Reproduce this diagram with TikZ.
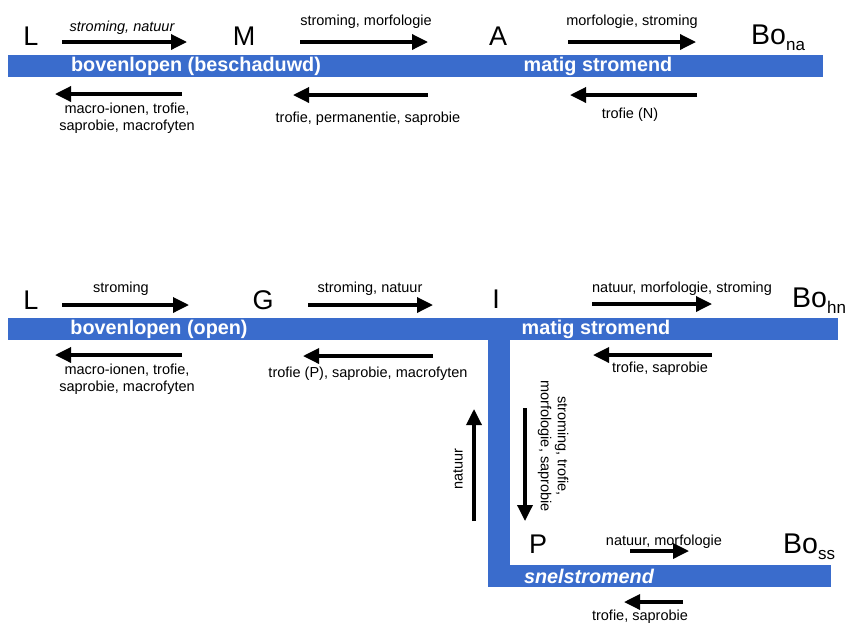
\documentclass[tikz,border=0pt]{standalone}
\usepackage{fontspec}
\setmainfont{Liberation Sans}
\usetikzlibrary{arrows.meta}
\definecolor{bandblue}{RGB}{58,108,204}
\begin{document}
\begin{tikzpicture}[x=1pt,y=-1pt,
  flow/.style={line width=3.4pt,-{Triangle[length=16pt,width=15pt]}},
  lbl/.style={font=\fontsize{14.5}{17}\selectfont,align=center,inner sep=0pt},
  ilbl/.style={lbl,font=\fontsize{14.5}{17}\selectfont\itshape},
  station/.style={font=\fontsize{27}{30}\selectfont,inner sep=0pt,anchor=base},
  bandtxt/.style={text=white,font=\bfseries\fontsize{19.8}{21}\selectfont,inner sep=0pt}]
\useasboundingbox (0,0) rectangle (848,625);

% ---------------- top diagram ----------------
\fill[bandblue] (8,55) rectangle (823,77);
\node[bandtxt] (b1) at (196,66) {bovenlopen (beschaduwd)};
\node[bandtxt] (b2) at (598,66) {matig stromend};

\node[station] (L1) at (31,45) {L};
\node[station] (M1) at (244,45) {M};
\node[station] (A1) at (498,45) {A};
\node[station,anchor=base west] (Bo1) at (751,44) {\fontsize{28.5}{30}\selectfont Bo\raisebox{-6pt}{\fontsize{17}{18}\selectfont na}};

\coordinate (t1a) at (62,42);  \coordinate (t1b) at (187,42);
\coordinate (t2a) at (300,42); \coordinate (t2b) at (428,42);
\coordinate (t3a) at (568,42); \coordinate (t3b) at (696,42);
\draw[flow] (t1a) -- (t1b);
\draw[flow] (t2a) -- (t2b);
\draw[flow] (t3a) -- (t3b);
\node[ilbl,anchor=base] (lt1) at (122,31) {stroming, natuur};
\node[lbl,anchor=base] (lt2) at (366,25) {stroming, morfologie};
\node[lbl,anchor=base] (lt3) at (632,25) {morfologie, stroming};

\coordinate (u1a) at (182,94); \coordinate (u1b) at (55,94);
\coordinate (u2a) at (428,95); \coordinate (u2b) at (293,95);
\coordinate (u3a) at (697,95); \coordinate (u3b) at (570,95);
\draw[flow] (u1a) -- (u1b);
\draw[flow] (u2a) -- (u2b);
\draw[flow] (u3a) -- (u3b);
\node[lbl,anchor=north] (lu1) at (127,103) {macro-ionen, trofie,\\saprobie, macrofyten};
\node[lbl,anchor=base] (lu2) at (368,122) {trofie, permanentie, saprobie};
\node[lbl,anchor=base] (lu3) at (630,118) {trofie (N)};

% ---------------- bottom diagram ----------------
\fill[bandblue] (8,318) rectangle (838,340);
\fill[bandblue] (488,318) rectangle (510,587);
\fill[bandblue] (488,565) rectangle (831,587);
\node[bandtxt] (b3) at (159,329) {bovenlopen (open)};
\node[bandtxt] (b4) at (596,329) {matig stromend};
\node[bandtxt,font=\bfseries\itshape\fontsize{19.8}{21}\selectfont] (b5) at (589,576) {snelstromend};

\node[station] (L2) at (31,309) {L};
\node[station] (G2) at (263,309) {G};
\node[station] (I2) at (496,308) {I};
\node[station,anchor=base west] (Bo2) at (792,307) {\fontsize{28.5}{30}\selectfont Bo\raisebox{-6pt}{\fontsize{17}{18}\selectfont hn}};
\node[station] (P2) at (538,553) {P};
\node[station,anchor=base west] (Bo3) at (783,553) {\fontsize{28.5}{30}\selectfont Bo\raisebox{-6pt}{\fontsize{17}{18}\selectfont ss}};

\coordinate (r1a) at (62,305);  \coordinate (r1b) at (189,305);
\coordinate (r2a) at (308,305); \coordinate (r2b) at (433,305);
\coordinate (r3a) at (592,304); \coordinate (r3b) at (712,304);
\draw[flow] (r1a) -- (r1b);
\draw[flow] (r2a) -- (r2b);
\draw[flow] (r3a) -- (r3b);
\node[lbl,anchor=base] (lr1) at (121,292) {stroming};
\node[lbl,anchor=base] (lr2) at (370,292) {stroming, natuur};
\node[lbl,anchor=base] (lr3) at (682,292) {natuur, morfologie, stroming};

\coordinate (s1a) at (182,355); \coordinate (s1b) at (55,355);
\coordinate (s2a) at (433,356); \coordinate (s2b) at (303,356);
\coordinate (s3a) at (712,355); \coordinate (s3b) at (593,355);
\draw[flow] (s1a) -- (s1b);
\draw[flow] (s2a) -- (s2b);
\draw[flow] (s3a) -- (s3b);
\node[lbl,anchor=north] (ls1) at (127,364) {macro-ionen, trofie,\\saprobie, macrofyten};
\node[lbl,anchor=base] (ls2) at (368,377) {trofie (P), saprobie, macrofyten};
\node[lbl,anchor=base] (ls3) at (660,372) {trofie, saprobie};

\coordinate (v1a) at (474,521); \coordinate (v1b) at (474,409);
\coordinate (v2a) at (525,408); \coordinate (v2b) at (525,521);
\draw[flow] (v1a) -- (v1b);
\draw[flow] (v2a) -- (v2b);
\node[lbl,rotate=90] (lv1) at (458,469) {natuur};
\node[lbl,rotate=-90] (lv2) at (553,446) {stroming, trofie,\\morfologie, saprobie};

\coordinate (p1a) at (630,551); \coordinate (p1b) at (689,551);
\coordinate (p2a) at (683,602); \coordinate (p2b) at (624,602);
\draw[flow] (p1a) -- (p1b);
\draw[flow] (p2a) -- (p2b);
\node[lbl,anchor=base] (lp1) at (664,545) {natuur, morfologie};
\node[lbl,anchor=base] (lp2) at (640,620) {trofie, saprobie};
\end{tikzpicture}
\end{document}
